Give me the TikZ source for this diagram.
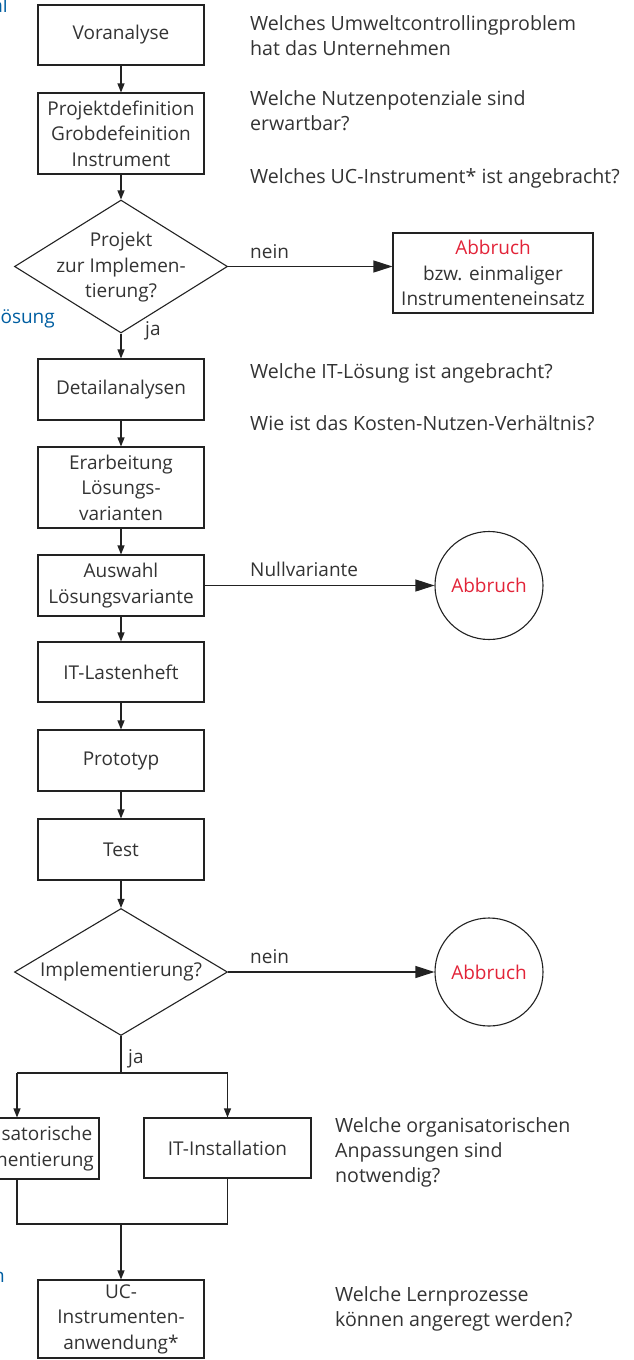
\documentclass[tikz,border=0pt]{standalone}
\usepackage{fontspec}
\setmainfont{Open Sans}
\usetikzlibrary{arrows.meta,shapes.geometric}
\definecolor{txt}{RGB}{51,51,51}
\definecolor{lncol}{RGB}{34,34,34}
\definecolor{redt}{RGB}{226,35,56}
\definecolor{bluet}{RGB}{0,94,161}
\begin{document}
\begin{tikzpicture}[x=1pt,y=-1pt,
  every node/.style={font=\fontsize{19}{25.5}\selectfont, text=txt},
  box/.style={draw=lncol, line width=1.1pt, minimum width=166pt, align=center, inner sep=0pt},
  dia/.style={draw=lncol, line width=1.1pt, diamond, minimum width=213pt, minimum height=133pt, inner sep=0pt},
  circ/.style={draw=lncol, line width=1.1pt, circle, minimum size=108pt, inner sep=0pt},
  va/.style={draw=lncol, line width=1.1pt, -{Triangle[length=9pt,width=7pt]}},
  ha/.style={draw=lncol, line width=1.1pt, -{Triangle[length=19pt,width=12pt]}},
  conn/.style={draw=lncol, line width=1.1pt},
  q/.style={anchor=base west, inner sep=0pt, font=\fontsize{19.6}{25.5}\selectfont},
  lbl/.style={anchor=base west, inner sep=0pt},
  frag/.style={anchor=mid east, inner sep=0pt, text=bluet}
]
\useasboundingbox (0,0) rectangle (633,1360);
\clip (0,0) rectangle (633,1360);

% left flow
\node[box, minimum height=60pt] (v) at (121,35) {Voranalyse};
\node[box, minimum height=81pt] (p) at (121,133.5) {Projektdefinition\\Grobdefeinition\\Instrument};
\node[dia, label={[align=center,yshift=-1pt]center:Projekt\\zur Implemen-\\tierung?}] (d1) at (121,266.5) {};
\node[box, minimum width=200pt, minimum height=80pt] (a1) at (493,273) {\textcolor{redt}{Abbruch}\\bzw. einmaliger\\Instrumenteneinsatz};
\node[box, minimum height=61pt] (det) at (121,389.5) {Detailanalysen};
\node[box, minimum height=81pt] (erb) at (121,487.5) {Erarbeitung\\Lösungs-\\varianten};
\node[box, minimum height=61pt] (aus) at (121,585.5) {Auswahl\\Lösungsvariante};
\node[circ] (c1) at (489,585.5) {\textcolor{redt}{Abbruch}};
\node[box, minimum height=60pt] (itl) at (121,672) {IT-Lastenheft};
\node[box, minimum height=61pt] (pro) at (121,760.5) {Prototyp};
\node[box, minimum height=61pt] (tst) at (121,849.5) {Test};
\node[dia, minimum height=127pt, label={center:Implementierung?}] (d2) at (121,972) {};
\node[circ] (c2) at (489,972) {\textcolor{redt}{Abbruch}};
\coordinate (j0) at (121,1073);
\coordinate (jl) at (17,1073);
\coordinate (jr) at (227.5,1073);
\node[box, minimum width=164pt, minimum height=61pt] (org) at (17,1148.5) {Organisatorische\\Implementierung};
\node[box, minimum width=167pt, minimum height=60pt] (iti) at (227.5,1148) {IT-Installation};
\coordinate (m) at (121,1224);
\node[box, minimum height=78pt] (uc) at (121,1319) {UC-\\Instrumenten-\\anwendung*};

% connectors
\draw[va] (v) -- (p);
\draw[va] (p) -- (d1);
\draw[ha] (d1.east) -- (a1.west |- d1.east);
\draw[va] (d1) -- (det);
\draw[va] (det) -- (erb);
\draw[va] (erb) -- (aus);
\draw[ha] (aus) -- (c1);
\draw[va] (aus) -- (itl);
\draw[va] (itl) -- (pro);
\draw[va] (pro) -- (tst);
\draw[va] (tst) -- (d2);
\draw[ha] (d2) -- (c2);
\draw[conn] (d2.south) -- (j0);
\draw[conn] (jl) -- (jr);
\draw[va] (jl) -- (org);
\draw[va] (jr) -- (iti);
\draw[conn] (org.south) |- (m);
\draw[conn] (iti.south) |- (m);
\draw[va] (m) -- (uc);

% connector labels
\node[lbl] (n1) at (250,258) {nein};
\node[lbl] (ja1) at (145,335) {ja};
\node[lbl] (nv) at (250,576) {Nullvariante};
\node[lbl] (n2) at (250,963) {nein};
\node[lbl] (ja2) at (128,1063) {ja};

% cut-off blue fragments
\node[frag] (f1) at (8,10) {al};
\node[frag] (f2) at (55,321) {ösung};
\node[frag] (f3) at (5,1280) {n};

% questions
\node[q] (q1) at (250,30) {Welches Umweltcontrollingproblem};
\node[q] (q2) at (250,55) {hat das Unternehmen};
\node[q] (q3) at (250,105) {Welche Nutzenpotenziale sind};
\node[q] (q4) at (250,130) {erwartbar?};
\node[q] (q5) at (250,183) {Welches UC-Instrument* ist angebracht?};
\node[q] (q6) at (250,378) {Welche IT-Lösung ist angebracht?};
\node[q] (q7) at (250,430) {Wie ist das Kosten-Nutzen-Verhältnis?};
\node[q] (q8) at (335,1132) {Welche organisatorischen};
\node[q] (q9) at (335,1157) {Anpassungen sind};
\node[q] (q10) at (335,1182) {notwendig?};
\node[q] (q11) at (335,1301) {Welche Lernprozesse};
\node[q] (q12) at (335,1326) {können angeregt werden?};
\end{tikzpicture}
\end{document}
